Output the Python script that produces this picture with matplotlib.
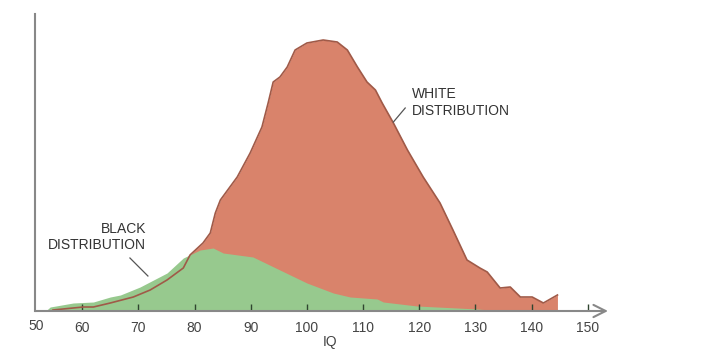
import matplotlib.pyplot as plt
import numpy as np

plt.rcParams['font.family'] = ['Liberation Sans', 'DejaVu Sans']

# white distribution outline (IQ, relative height)
white_iq = [54.8, 60.2, 62.0, 65.0, 69.1, 72.1, 75.1, 78.0, 79.2, 81.5, 82.8, 83.7, 84.6,
            87.6, 89.9, 92.0, 93.1, 94.0, 95.2, 96.5, 97.9, 100.0, 102.9, 105.4, 107.2,
            109.0, 110.7, 112.2, 113.4, 115.4, 117.9, 120.7, 123.7, 126.0, 128.5, 130.8,
            132.1, 134.4, 136.2, 138.0, 140.1, 142.1, 144.6, 144.6]
white_h = [1, 4, 4, 8, 14, 21, 31, 43, 56, 68, 78, 98, 111,
           134, 158, 184, 208, 229, 234, 244, 261, 268, 271, 269, 261,
           244, 229, 221, 208, 188, 161, 134, 108, 81, 51, 43,
           39, 23, 24, 14, 14, 8, 16, 0]

# black distribution
black_iq = [53.5, 54.3, 58.4, 62.0, 65.0, 66.8, 70.3, 75.1, 78.0, 81.0, 83.3, 85.1,
            90.4, 95.2, 100.0, 104.7, 107.7, 112.5, 113.6, 119.6, 130.3, 134.9]
black_h = [0, 4, 8, 9, 14, 16, 24, 38, 53, 61, 63, 58,
           54, 41, 28, 18, 14, 12, 9, 5, 2, 0]

tick_vals = [60, 70, 80, 90, 100, 110, 120, 130, 140, 150]

fig = plt.figure(figsize=(7.04, 3.57), dpi=100)
ax = fig.add_axes([35 / 704, 46 / 357, 573 / 704, 297 / 357])
ax.set_axisbelow(False)

ax.fill_between(white_iq, white_h, color='#d9836b', lw=0, zorder=1)
ax.fill_between(black_iq, black_h, color='#97c98e', lw=0, zorder=2)
ax.plot(white_iq[:-1], white_h[:-1], color='#a05a48', lw=1.2, zorder=3)

ax.set_xlim(51.6, 153.6)
ax.set_ylim(0, 297)

for s in ['top', 'right', 'bottom']:
    ax.spines[s].set_visible(False)
ax.spines['left'].set_color('#888888')
ax.spines['left'].set_linewidth(1.5)

# x axis with open arrow head
ax.annotate('', xy=(1.0, 0), xytext=(0, 0), xycoords='axes fraction',
            arrowprops=dict(arrowstyle='->', color='#888888', lw=1.5,
                            mutation_scale=22, shrinkA=0, shrinkB=0), zorder=4)

ax.set_yticks([])
ax.set_xticks(tick_vals)
ax.set_xticklabels([str(v) for v in tick_vals])
ax.tick_params(axis='x', direction='in', length=5, width=1, color='#2f452f',
               labelsize=10, labelcolor='#444444', pad=7)
ax.text(51.9, -0.052, '50', transform=ax.get_xaxis_transform(), ha='center', va='center',
        fontsize=10, color='#444444')
ax.text(104.1, -0.105, 'IQ', transform=ax.get_xaxis_transform(), ha='center', va='center',
        fontsize=10, color='#444444')

ax.text(71.4, 74, 'BLACK\nDISTRIBUTION', ha='right', va='center', multialignment='right',
        fontsize=10, color='#333333')
ax.plot([68.5, 71.7], [53, 35], color='#555555', lw=0.9, zorder=5)

ax.text(118.7, 208.5, 'WHITE\nDISTRIBUTION', ha='left', va='center',
        fontsize=10, color='#333333')
ax.plot([117.5, 115.4], [203, 189], color='#555555', lw=0.9, zorder=5)

fig.savefig('out.png', dpi=100)
